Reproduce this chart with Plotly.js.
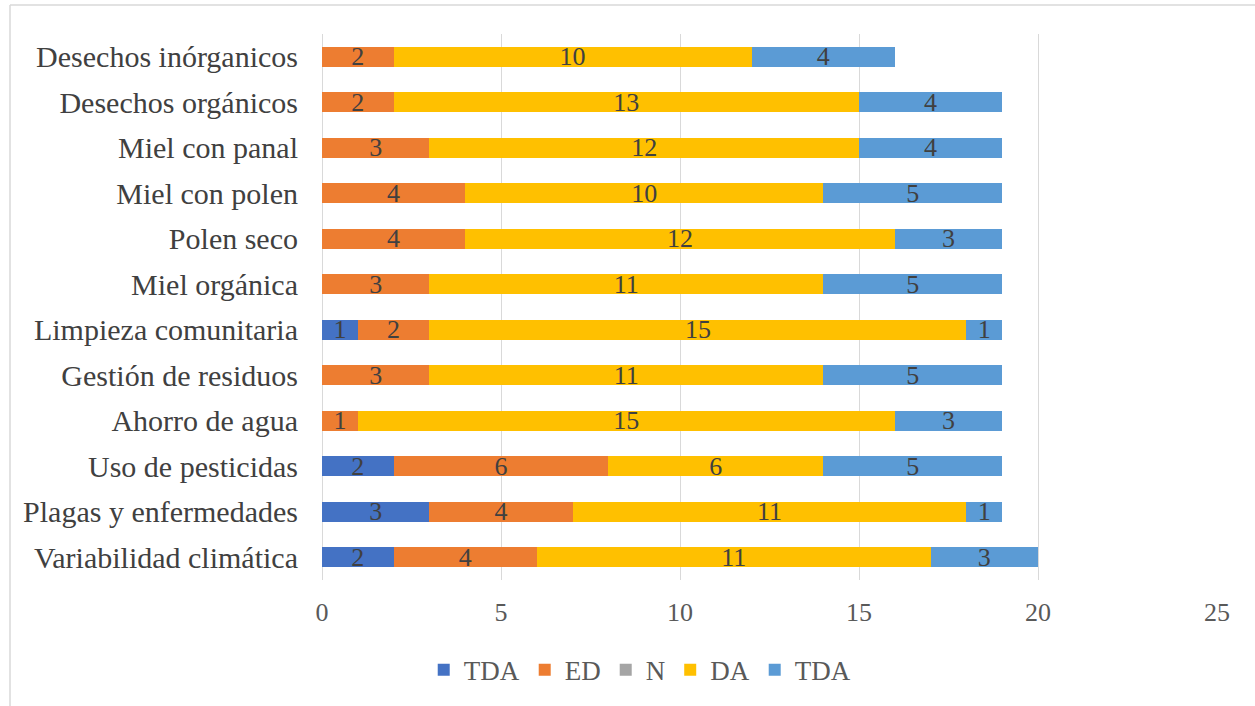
<!DOCTYPE html>
<html>
<head>
<meta charset="utf-8">
<script src="https://cdn.plot.ly/plotly-3.0.1.min.js"></script>
<style>html,body{margin:0;padding:0;background:#fff;}#chart{width:1255px;height:706px;}</style>
</head>
<body>
<div id="chart"></div>
<script>
const categories = ["Variabilidad climática","Plagas y enfermedades","Uso de pesticidas","Ahorro de agua","Gestión de residuos","Limpieza comunitaria","Miel orgánica","Polen seco","Miel con polen","Miel con panal","Desechos orgánicos","Desechos inórganicos"];
const seriesNames = ["TDA","ED","N","DA","TDA"];
const tda1 = [2,3,2,0,0,1,0,0,0,0,0,0];
const ed   = [4,4,6,1,3,2,3,4,4,3,2,2];
const n    = [0,0,0,0,0,0,0,0,0,0,0,0];
const da   = [11,11,6,15,11,15,11,12,10,12,13,10];
const tda2 = [3,1,5,3,5,1,5,3,5,4,4,4];
const colors = ["#4472C4","#ED7D31","#A5A5A5","#FFC000","#5B9BD5"];
const allVals = [tda1, ed, n, da, tda2];

const traces = allVals.map((vals, i) => ({
  type: 'bar',
  orientation: 'h',
  name: seriesNames[i],
  y: categories,
  x: vals,
  marker: {color: colors[i], line: {width: 0}},
  text: vals.map(v => v > 0 ? String(v) : ''),
  textposition: 'inside',
  insidetextanchor: 'middle',
  constraintext: 'none',
  textangle: 0,
  textfont: {family: 'Liberation Serif, Times New Roman, serif', size: 26, color: '#404040'},
  hoverinfo: 'x+name'
}));

const layout = {
  width: 1255, height: 706,
  barmode: 'stack',
  bargap: 0.56,
  margin: {l: 322, r: 38, t: 34, b: 125},
  paper_bgcolor: '#fff', plot_bgcolor: '#fff',
  font: {family: 'Liberation Serif, Times New Roman, serif', color: '#595959', size: 26},
  xaxis: {
    range: [0, 25], dtick: 5, tick0: 0,
    showgrid: true, gridcolor: '#D9D9D9', gridwidth: 1,
    zeroline: true, zerolinecolor: '#D9D9D9', zerolinewidth: 1,
    showline: false, ticks: '',
    ticklabelstandoff: 14,
    tickfont: {size: 26, color: '#595959'},
    fixedrange: true
  },
  yaxis: {
    type: 'category', categoryorder: 'array', categoryarray: categories,
    showgrid: false, zeroline: false, showline: false, ticks: '',
    ticklabelstandoff: 23,
    tickfont: {size: 30, color: '#404040'},
    fixedrange: true
  },
  showlegend: true,
  legend: {
    orientation: 'h', x: 0.355, xanchor: 'center', y: -0.163, yanchor: 'middle',
    traceorder: 'normal',
    font: {size: 27, color: '#595959'},
    itemwidth: 30
  },
  shapes: [
    {type: 'line', xref: 'paper', yref: 'paper', x0: -0.3486, x1: 1.1, y0: 1.053, y1: 1.053, line: {color: '#D9D9D9', width: 1.5}},
    {type: 'line', xref: 'paper', yref: 'paper', x0: -0.3486, x1: -0.3486, y0: 1.053, y1: -0.25, line: {color: '#D9D9D9', width: 1.5}}
  ]
};

Plotly.newPlot('chart', traces, layout, {displayModeBar: false, staticPlot: true});
</script>
</body>
</html>
